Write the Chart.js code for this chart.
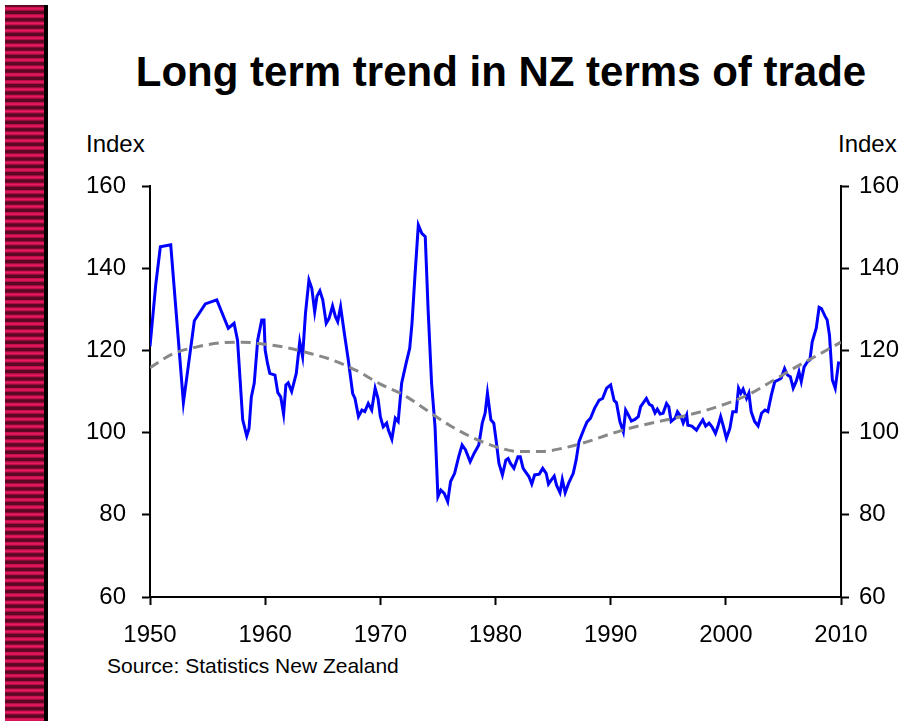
<!DOCTYPE html>
<html>
<head>
<meta charset="utf-8">
<script src="https://cdn.jsdelivr.net/npm/chart.js@4.4.1/dist/chart.umd.min.js"></script>
<style>
  body { margin: 0; background: #fff; font-family: "Liberation Sans", Arial, sans-serif; }
  #wrap { position: relative; width: 911px; height: 723px; overflow: hidden; }
  #stripe {
    position: absolute; left: 5px; top: 5px; width: 39px; height: 716px;
    border-right: 4px solid #000;
    background: repeating-linear-gradient(to bottom,
      #5a0824 0px, #5a0824 1.3px, #c20f4a 2.3px, #ee1b62 3.8px, #b00d42 5.3px, #5a0824 6.3px, #5a0824 7.33px);
  }
  .txt { position: absolute; line-height: 1; white-space: nowrap; color: #000; }
  #title { left: 501px; top: 51px; transform: translateX(-50%); font-size: 42px; font-weight: bold; }
  #idxL { left: 86px; top: 132px; font-size: 24px; }
  #idxR { left: 838px; top: 132px; font-size: 24px; }
  #source { left: 107px; top: 655px; font-size: 21px; }
  #chart { position: absolute; left: 0; top: 0; width: 911px; height: 723px; }
</style>
</head>
<body>
<div id="wrap">
  <div id="stripe"></div>
  <div class="txt" id="title">Long term trend in NZ terms of trade</div>
  <div class="txt" id="idxL">Index</div>
  <div class="txt" id="idxR">Index</div>
  <div class="txt" id="source">Source: Statistics New Zealand</div>
  <div id="chart"><canvas id="c"></canvas></div>
</div>
<script>
// terms of trade index
var totYears = [
  1950.0, 1950.5, 1950.9, 1951.8, 1952.9, 1953.85, 1954.8, 1955.8, 1956.8, 1957.3,
  1957.6, 1958.05, 1958.4, 1958.6, 1958.8, 1959.05, 1959.35, 1959.7, 1959.9,
  1960.0, 1960.2, 1960.4, 1960.85, 1961.1, 1961.35, 1961.6, 1961.8, 1962.0, 1962.3,
  1962.7, 1963.0, 1963.25, 1963.5, 1963.8, 1964.05, 1964.3, 1964.5, 1964.75, 1965.0,
  1965.3, 1965.55, 1965.85, 1966.1, 1966.3, 1966.55, 1966.9, 1967.2, 1967.6, 1967.8,
  1968.1, 1968.4, 1968.65, 1968.95, 1969.25, 1969.55, 1969.8,
  1970.0, 1970.25, 1970.55, 1970.7, 1971.0, 1971.3, 1971.55, 1971.85, 1972.2, 1972.55,
  1972.75, 1973.0, 1973.3, 1973.6, 1973.9, 1974.15, 1974.45, 1974.75, 1975.0, 1975.25,
  1975.55, 1975.85, 1976.1, 1976.45, 1976.8, 1977.1, 1977.4, 1977.8, 1978.15, 1978.55,
  1978.85, 1979.1, 1979.3, 1979.6, 1979.85,
  1980.05, 1980.3, 1980.6, 1980.9, 1981.1, 1981.3, 1981.6, 1981.95, 1982.15, 1982.4,
  1982.7, 1982.9, 1983.15, 1983.4, 1983.8, 1984.1, 1984.4, 1984.6, 1984.85, 1985.1,
  1985.3, 1985.6, 1985.8, 1986.05, 1986.35, 1986.75, 1987.0, 1987.25, 1987.7, 1987.95,
  1988.25, 1988.6, 1989.0, 1989.3, 1989.65,
  1990.0, 1990.3, 1990.5, 1990.8, 1991.1, 1991.3, 1991.5, 1991.8, 1992.1, 1992.4,
  1992.6, 1992.8, 1993.1, 1993.35, 1993.6, 1993.85, 1994.05, 1994.3, 1994.55, 1994.85,
  1995.05, 1995.25, 1995.6, 1995.8, 1996.1, 1996.3, 1996.6, 1996.7, 1997.05, 1997.45,
  1997.7, 1998.0, 1998.25, 1998.55, 1998.8, 1999.1, 1999.3, 1999.55, 1999.8,
  2000.05, 2000.35, 2000.6, 2000.9, 2001.1, 2001.3, 2001.5, 2001.8, 2002.0, 2002.2,
  2002.5, 2002.8, 2003.1, 2003.4, 2003.65, 2003.95, 2004.25, 2004.55, 2004.8, 2005.1,
  2005.35, 2005.6, 2005.85, 2006.1, 2006.35, 2006.55, 2006.8, 2007.1, 2007.3, 2007.5,
  2007.85, 2008.1, 2008.3, 2008.6, 2008.8, 2009.0, 2009.25, 2009.5, 2009.8
];
var totValues = [
  121, 136, 145.2, 145.7, 107.3, 127.2, 131.3, 132.3, 125.4, 126.6,
  122.5, 103.1, 99.2, 101, 108.7, 112, 122.5, 127.4, 127.4,
  120.1, 116.9, 114.4, 114, 109.7, 108.7, 104.5, 111.6, 112.1, 110,
  114.4, 122.1, 118.5, 129, 137.1, 135.1, 129.4, 133.2, 134.5, 132.3,
  126.6, 127.8, 130.8, 128.2, 127, 130.6, 123.7, 118, 109.5, 108.3,
  103.9, 105.5, 105.1, 107.1, 105.5, 110.8, 108.3,
  103.9, 101.4, 102.3, 100.6, 98.4, 103.5, 102.7, 112, 116.4, 120.5,
  126.6, 137.9, 150.5, 148.5, 147.7, 129.8, 112, 101.4, 84.4, 86,
  85.2, 83.2, 88.1, 90.1, 94.1, 97, 95.8, 92.9, 95, 97,
  102.3, 104.7, 109.6, 103.1, 102.3,
  98.2, 92.5, 89.7, 93.3, 93.7, 92.5, 91.3, 94.1, 94.1, 91.3,
  90.1, 89.3, 87.5, 89.7, 89.9, 91.3, 90.1, 87.5, 88.5, 89.4,
  87.2, 85.4, 88.6, 85.4, 87.7, 90.1, 93.3, 97.8, 101, 102.6,
  103.5, 105.9, 107.9, 108.3, 110.8,
  111.6, 107.8, 107.3, 102.7, 100.2, 105.5, 104.5, 102.8, 103.2, 103.9,
  106.3, 107.1, 108.3, 106.9, 106.5, 104.8, 105.7, 104.5, 104.7, 107.1,
  106.3, 102.7, 103.5, 105.1, 103.9, 102.3, 104.3, 101.8, 101.6, 100.6,
  101.8, 103.1, 101.6, 102.3, 101.4, 99.8, 101.4, 103.9, 101.4,
  98.6, 101, 105.1, 105.1, 110.8, 109.6, 110.6, 108.3, 109.6, 105.1,
  102.7, 101.6, 104.7, 105.5, 105.1, 109.1, 112.4, 112.8, 113.2, 115.6,
  114, 113.6, 110.8, 112.4, 114.8, 112.4, 116, 117.3, 117.7, 122.1,
  125.4, 130.5, 130.2, 128.4, 127.4, 123.7, 112.8, 110.8, 117.3
];

// long term trend (dashed grey)
var trendYears = [1950, 1952, 1954, 1956, 1958, 1960, 1962, 1964, 1966, 1968, 1970,
  1972, 1974, 1976, 1978, 1980, 1982, 1984, 1986, 1988, 1990,
  1992, 1994, 1996, 1998, 2000, 2002, 2004, 2006, 2008, 2010];
var trendValues = [115.8, 119.2, 120.8, 121.8, 122.0, 121.5, 120.6, 119.2, 117.5, 115.0, 111.8,
  109.2, 105.5, 101.8, 98.8, 96.6, 95.4, 95.4, 96.3, 97.8, 99.7,
  101.3, 102.6, 103.8, 105.2, 107.0, 109.3, 112.5, 115.8, 118.9, 122.0];

var xTicks = [1950, 1960, 1970, 1980, 1990, 2000, 2010];
var yTicks = [60, 80, 100, 120, 140, 160];

function pts(xs, ys) {
  return xs.map(function (x, i) { return { x: x, y: ys[i] }; });
}

var FONT = '"Liberation Sans", Arial, sans-serif';

function axisStyle(extra) {
  var base = {
    grid: { drawOnChartArea: false, drawTicks: true, tickLength: 8, tickWidth: 2, tickColor: '#000' },
    border: { display: true, color: '#000', width: 2 },
    ticks: { color: '#000', font: { family: FONT, size: 24 }, autoSkip: false, maxRotation: 0,
             callback: function (v) { return String(v); } }
  };
  return Object.assign(base, extra);
}

var yOpts = function (pos, width, pad) {
  var o = axisStyle({
    type: 'linear', position: pos, min: 60, max: 160,
    afterBuildTicks: function (s) { s.ticks = yTicks.map(function (v) { return { value: v }; }); },
    afterFit: function (s) { s.width = width; }
  });
  o.ticks.padding = pad;
  return o;
};

var xOpt = axisStyle({
  type: 'linear', position: 'bottom', min: 1950, max: 2010,
  afterBuildTicks: function (s) { s.ticks = xTicks.map(function (v) { return { value: v }; }); },
  afterFit: function (s) { s.height = 126; }
});
xOpt.ticks.padding = 16;

new Chart(document.getElementById('c'), {
  type: 'line',
  data: {
    datasets: [
      {
        label: 'Trend',
        data: pts(trendYears, trendValues),
        borderColor: '#888888',
        borderWidth: 3,
        borderDash: [10, 6],
        cubicInterpolationMode: 'monotone',
        pointRadius: 0,
        fill: false,
        order: 0
      },
      {
        label: 'Terms of trade',
        data: pts(totYears, totValues),
        borderColor: '#0000ff',
        borderWidth: 3,
        tension: 0,
        pointRadius: 0,
        fill: false,
        order: 1
      }
    ]
  },
  options: {
    responsive: true,
    maintainAspectRatio: false,
    animation: false,
    layout: { padding: { top: 186, left: 0, right: 0, bottom: 0 } },
    plugins: { legend: { display: false }, tooltip: { enabled: false }, title: { display: false } },
    scales: {
      x: xOpt,
      y: yOpts('left', 150, 16),
      y2: yOpts('right', 70, 10)
    }
  }
});
</script>
</body>
</html>
